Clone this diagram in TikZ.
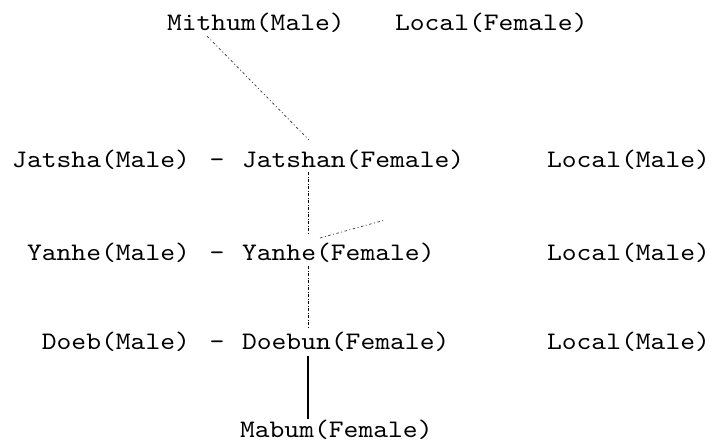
\documentclass[tikz,border=0pt]{standalone}
\usepackage{fontspec}
\newfontfamily\tw[FakeStretch=1.12]{lmmono10-regular.otf}
\begin{document}
\begin{tikzpicture}[x=1pt,y=-1pt,
  lbl/.style={inner sep=0pt,outer sep=0pt,font=\tw\fontsize{25.2}{28}\selectfont,text=black},
  dotline/.style={line width=0.8pt,dash pattern=on 3pt off 1.5pt on 1pt off 1.5pt,black},
  faint/.style={line width=0.7pt,dash pattern=on 2.5pt off 2.5pt on 1pt off 2.5pt,black!80},
  solidline/.style={line width=1.3pt,black}]
\useasboundingbox (0,0) rectangle (713,445);
% row 0
\node[lbl,anchor=base west] (mithum) at (167,30) {Mithum(Male)};
\node[lbl,anchor=base west] (localf) at (395,30) {Local(Female)};
% row 1
\node[lbl,anchor=base east] (jatsha) at (190,167) {Jatsha(Male)};
\node[lbl,anchor=base] (d1) at (217,167) {-};
\node[lbl,anchor=base west] (jatshan) at (242,167) {Jatshan(Female)};
\node[lbl,anchor=base west] (localm1) at (547,167) {Local(Male)};
% row 2
\node[lbl,anchor=base east] (yanhem) at (190,260) {Yanhe(Male)};
\node[lbl,anchor=base] (d2) at (217,260) {-};
\node[lbl,anchor=base west] (yanhef) at (242,260) {Yanhe(Female)};
\node[lbl,anchor=base west] (localm2) at (547,260) {Local(Male)};
% row 3
\node[lbl,anchor=base east] (doeb) at (190,349) {Doeb(Male)};
\node[lbl,anchor=base] (d3) at (217,349) {-};
\node[lbl,anchor=base west] (doebun) at (242,349) {Doebun(Female)};
\node[lbl,anchor=base west] (localm3) at (547,349) {Local(Male)};
% row 4
\node[lbl,anchor=base west] (mabum) at (240,437) {Mabum(Female)};
% connector ends
\coordinate (m1) at (207,36);
\coordinate (j0) at (309,140);
\coordinate (j1) at (308,172);
\coordinate (y0) at (308,233);
\coordinate (y1) at (320,238);
\coordinate (y2) at (385,220);
\coordinate (y3) at (308,266);
\coordinate (b0) at (308,328);
\coordinate (b1) at (308,356);
\coordinate (a0) at (308,419);
\draw[faint] (m1) -- (j0);
\draw[dotline] (j1) -- (y0);
\draw[faint] (y1) -- (y2);
\draw[dotline] (y3) -- (b0);
\draw[solidline] (b1) -- (a0);
\end{tikzpicture}
\end{document}
